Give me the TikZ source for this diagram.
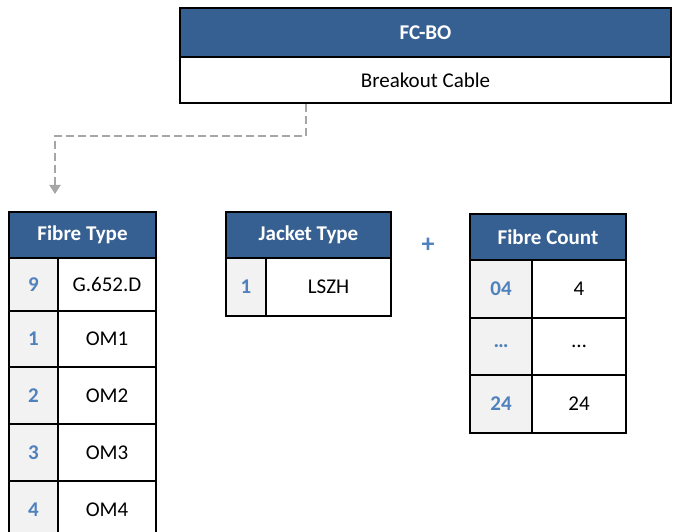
\documentclass[tikz,border=0pt]{standalone}
\usepackage{fontspec}
\setmainfont{Carlito}
\usetikzlibrary{arrows.meta,positioning}
\definecolor{hdrblue}{HTML}{376092}
\definecolor{keyblue}{HTML}{4F81BD}
\definecolor{keygrey}{HTML}{F2F2F2}
\definecolor{linkgrey}{HTML}{A6A6A6}
\tikzset{
  cell/.style={draw=black,line width=2pt,rectangle,inner sep=0pt,
               font=\fontsize{21}{24}\selectfont},
  hdr/.style={cell,fill=hdrblue,text=white,font=\fontsize{21}{24}\selectfont\bfseries},
  key/.style={cell,fill=keygrey,text=keyblue,font=\fontsize{21}{24}\selectfont\bfseries},
  val/.style={cell,fill=white,text=black},
  link/.style={draw=linkgrey,line width=2pt,dash pattern=on 8pt off 4pt,
               -{Triangle[width=11pt,length=9pt]}},
}
\begin{document}
\begin{tikzpicture}[x=1pt,y=-1pt]
\useasboundingbox (0,0) rectangle (675,532);
  % product code
  \node[hdr,minimum width=491,minimum height=49] (code) at (425.5,32.5) {FC-BO};
  \node[val,minimum width=491,minimum height=46] (desc) at (425.5,80) {Breakout Cable};
  % fibre type
  \node[hdr,minimum width=147,minimum height=46] (ft) at (82.5,235) {Fibre Type};
  \node[key,minimum width=49,minimum height=53] (ftk1) at (33.5,284.5) {9};
  \node[val,minimum width=98,minimum height=53] (ftv1) at (107,284.5) {G.652.D};
  \node[key,minimum width=49,minimum height=56] (ftk2) at (33.5,339) {1};
  \node[val,minimum width=98,minimum height=56] (ftv2) at (107,339) {OM1};
  \node[key,minimum width=49,minimum height=57] (ftk3) at (33.5,395.5) {2};
  \node[val,minimum width=98,minimum height=57] (ftv3) at (107,395.5) {OM2};
  \node[key,minimum width=49,minimum height=57] (ftk4) at (33.5,452.5) {3};
  \node[val,minimum width=98,minimum height=57] (ftv4) at (107,452.5) {OM3};
  \node[key,minimum width=49,minimum height=57] (ftk5) at (33.5,509.5) {4};
  \node[val,minimum width=98,minimum height=57] (ftv5) at (107,509.5) {OM4};
  % jacket type
  \node[hdr,minimum width=165,minimum height=46] (jt) at (308.5,235) {Jacket Type};
  \node[key,minimum width=40,minimum height=58] (jtk1) at (246,287) {1};
  \node[val,minimum width=125,minimum height=58] (jtv1) at (328.5,287) {LSZH};
  \node[text=keyblue,font=\fontsize{26}{28}\selectfont\bfseries] (plus) at (428,245) {+};
  % fibre count
  \node[hdr,minimum width=156,minimum height=46] (fc) at (548,237) {Fibre Count};
  \node[key,minimum width=62,minimum height=58] (fck1) at (501,289) {04};
  \node[val,minimum width=94,minimum height=58] (fcv1) at (579,289) {4};
  \node[key,minimum width=62,minimum height=57] (fck2) at (501,346.5) {\dots};
  \node[val,minimum width=94,minimum height=57] (fcv2) at (579,346.5) {\dots};
  \node[key,minimum width=62,minimum height=58] (fck3) at (501,404) {24};
  \node[val,minimum width=94,minimum height=58] (fcv3) at (579,404) {24};
  % connector
  \coordinate (tap) at (306,104);
  \coordinate (drop) at (55,194);
  \draw[link] (tap) -- ++(0,32) -| (drop);
\end{tikzpicture}
\end{document}
